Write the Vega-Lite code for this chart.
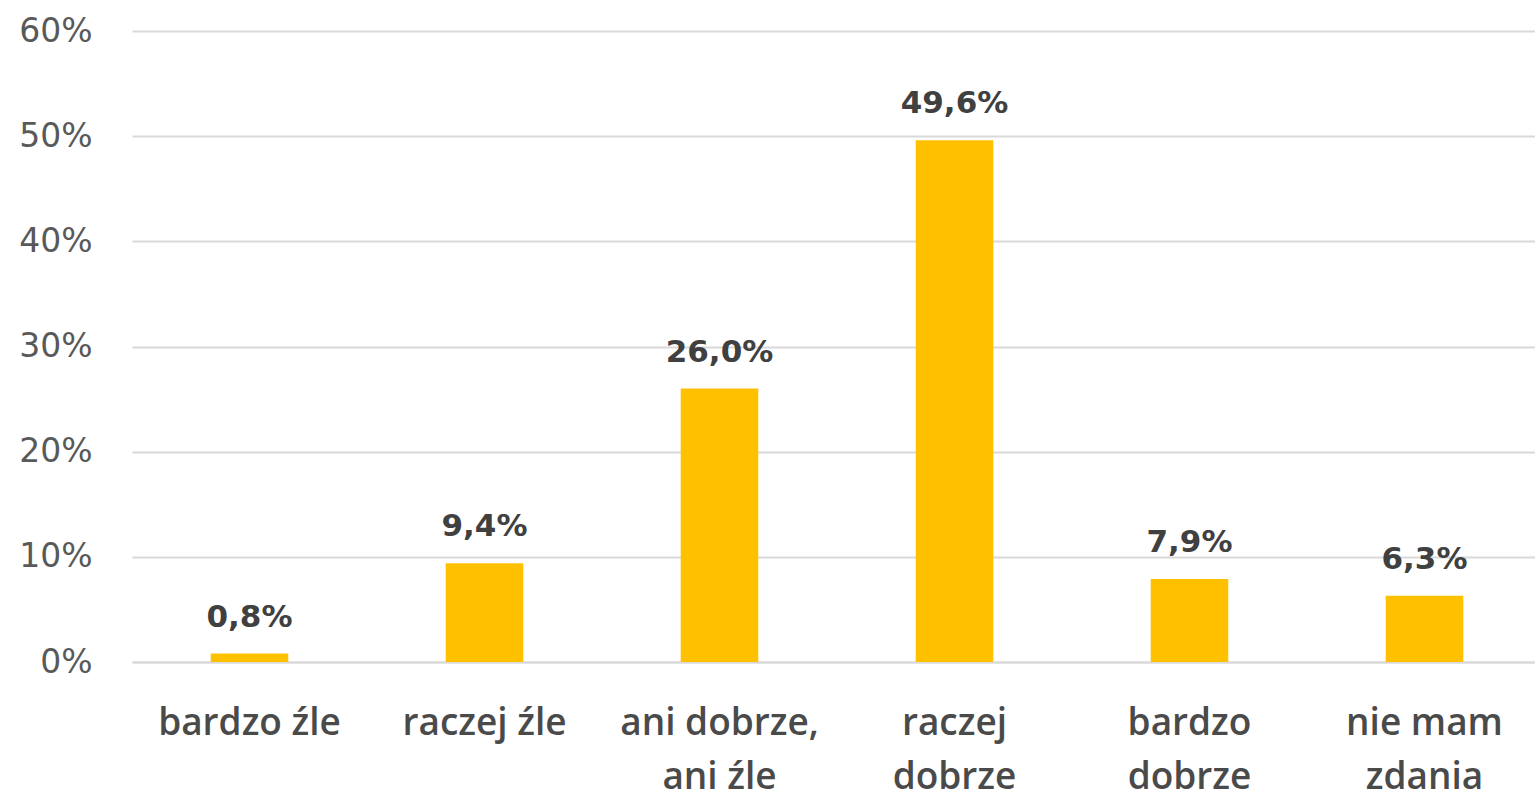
{
  "$schema": "https://vega.github.io/schema/vega-lite/v6.json",
  "autosize": "none",
  "width": 1410,
  "height": 631,
  "padding": {"left": 132, "top": 31, "right": 0, "bottom": 134},
  "background": "white",
  "config": {
    "view": {"stroke": null},
    "locale": {"number": {"decimal": ",", "thousands": " ", "grouping": [3], "currency": ["", " zł"]}}
  },
  "data": {
    "values": [
      {"kategoria": "bardzo źle", "wartosc": 0.008},
      {"kategoria": "raczej źle", "wartosc": 0.094},
      {"kategoria": "ani dobrze,|ani źle", "wartosc": 0.26},
      {"kategoria": "raczej|dobrze", "wartosc": 0.496},
      {"kategoria": "bardzo|dobrze", "wartosc": 0.079},
      {"kategoria": "nie mam|zdania", "wartosc": 0.063}
    ]
  },
  "encoding": {
    "x": {
      "field": "kategoria",
      "type": "nominal",
      "sort": null,
      "scale": {"paddingInner": 0.67, "paddingOuter": 0.335},
      "axis": {
        "title": null,
        "labelAngle": 0,
        "labelExpr": "split(datum.label, '|')",
        "labelFont": "Open Sans",
        "labelFontSize": 37,
        "labelFontWeight": 600,
        "labelColor": "#4a4a4a",
        "labelLineHeight": 54,
        "labelPadding": 72,
        "labelBaseline": "alphabetic",
        "labelOverlap": false,
        "ticks": false,
        "domain": true,
        "domainColor": "#d9d9d9",
        "domainWidth": 2,
        "labelLimit": 400
      }
    },
    "y": {
      "field": "wartosc",
      "type": "quantitative",
      "scale": {"domain": [0, 0.6]},
      "axis": {
        "title": null,
        "format": ".0%",
        "values": [0, 0.1, 0.2, 0.3, 0.4, 0.5, 0.6],
        "labelFont": "DejaVu Sans",
        "labelFontSize": 33,
        "labelColor": "#595959",
        "labelPadding": 40,
        "labelOverlap": false,
        "labelBound": false,
        "ticks": false,
        "domain": false,
        "gridColor": "#d9d9d9",
        "gridWidth": 2
      }
    }
  },
  "layer": [
    {"mark": {"type": "bar", "color": "#FFC000"}},
    {
      "mark": {"type": "text", "dy": -27, "baseline": "alphabetic", "font": "DejaVu Sans", "fontSize": 31, "fontWeight": "bold", "color": "#404040"},
      "encoding": {"text": {"field": "wartosc", "type": "quantitative", "format": ".1%"}}
    }
  ]
}
